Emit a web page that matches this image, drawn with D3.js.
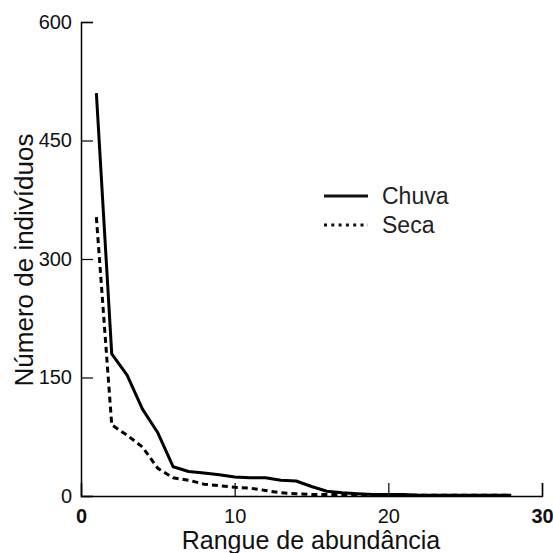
<!DOCTYPE html>
<html>
<head>
<meta charset="utf-8">
<script src="https://cdn.jsdelivr.net/npm/d3@7/dist/d3.min.js"></script>
<style>
  html, body { margin: 0; padding: 0; background: #fff; }
  svg { display: block; font-family: "Liberation Sans", Arial, sans-serif; }
</style>
</head>
<body>
<svg id="chart" width="553" height="553"></svg>
<script>
const ranks = d3.range(1, 29);
const chuva = [510, 180, 153, 110, 80, 37, 31, 29, 27, 24, 23, 23, 20, 19, 12, 6, 4, 3, 2, 2, 2, 1, 1, 1, 1, 1, 1, 1];
const seca  = [353, 90, 77, 62, 35, 23, 20, 15, 13, 11, 10, 7, 4, 3, 2, 2, 2, 1, 1, 1, 1, 1, 1, 1, 1, 1, 1, 1];
const xTicks = [0, 10, 20, 30];
const yTicks = [0, 150, 300, 450, 600];
const seriesNames = ["Chuva", "Seca"];

const svg = d3.select("#chart");
const x = d3.scaleLinear().domain([0, 30]).range([81, 542]);
const y = d3.scaleLinear().domain([0, 600]).range([496, 22]);

// axes
const yAxis = d3.axisLeft(y).tickValues(yTicks).tickSize(-12).tickPadding(9).tickFormat(d3.format("d"));
const gy = svg.append("g").attr("transform", "translate(81,0)").call(yAxis);
gy.select(".domain").attr("stroke", "#000").attr("stroke-width", 1.5);
gy.selectAll(".tick line").attr("stroke", "#000").attr("stroke-width", 1.2);
gy.selectAll(".tick text").attr("font-size", 20).attr("fill", "#111")
  .attr("font-family", "Liberation Sans, Arial, sans-serif");

const xAxis = d3.axisBottom(x).tickValues(xTicks).tickSize(-13).tickPadding(13).tickFormat(d3.format("d"));
const gx = svg.append("g").attr("transform", "translate(0,496)").call(xAxis);
gx.select(".domain").attr("stroke", "#000").attr("stroke-width", 1.5);
gx.selectAll(".tick line").attr("stroke", "#000").attr("stroke-width", 1.2);
gx.selectAll(".tick text").attr("font-size", 20).attr("fill", "#111")
  .attr("font-family", "Liberation Sans, Arial, sans-serif")
  .attr("font-weight", d => (d === 0 || d === 30) ? "bold" : "normal");

// lines
const line = d3.line().x((d, i) => x(ranks[i])).y(d => y(d));
svg.append("path").datum(chuva).attr("d", line)
  .attr("fill", "none").attr("stroke", "#000").attr("stroke-width", 3).attr("stroke-linejoin", "round");
svg.append("path").datum(seca).attr("d", line)
  .attr("fill", "none").attr("stroke", "#000").attr("stroke-width", 3).attr("stroke-dasharray", "6,4");

// axis titles
svg.append("text").attr("x", 311).attr("y", 549).attr("text-anchor", "middle")
  .attr("font-size", 25).attr("fill", "#111").text("Rangue de abundância");
svg.append("text").attr("transform", "translate(33,260) rotate(-90)").attr("text-anchor", "middle")
  .attr("font-size", 26).attr("fill", "#111").text("Número de indivíduos");

// legend
const leg = svg.append("g");
seriesNames.forEach((name, i) => {
  const yy = 196 + i * 29;
  leg.append("line").attr("x1", 324).attr("x2", 368).attr("y1", yy).attr("y2", yy)
    .attr("stroke", "#111").attr("stroke-width", 3)
    .attr("stroke-dasharray", i === 1 ? "3,4.3" : null);
  leg.append("text").attr("x", 382).attr("y", yy + 8).attr("font-size", 23).attr("fill", "#222").text(name);
});
</script>
</body>
</html>
